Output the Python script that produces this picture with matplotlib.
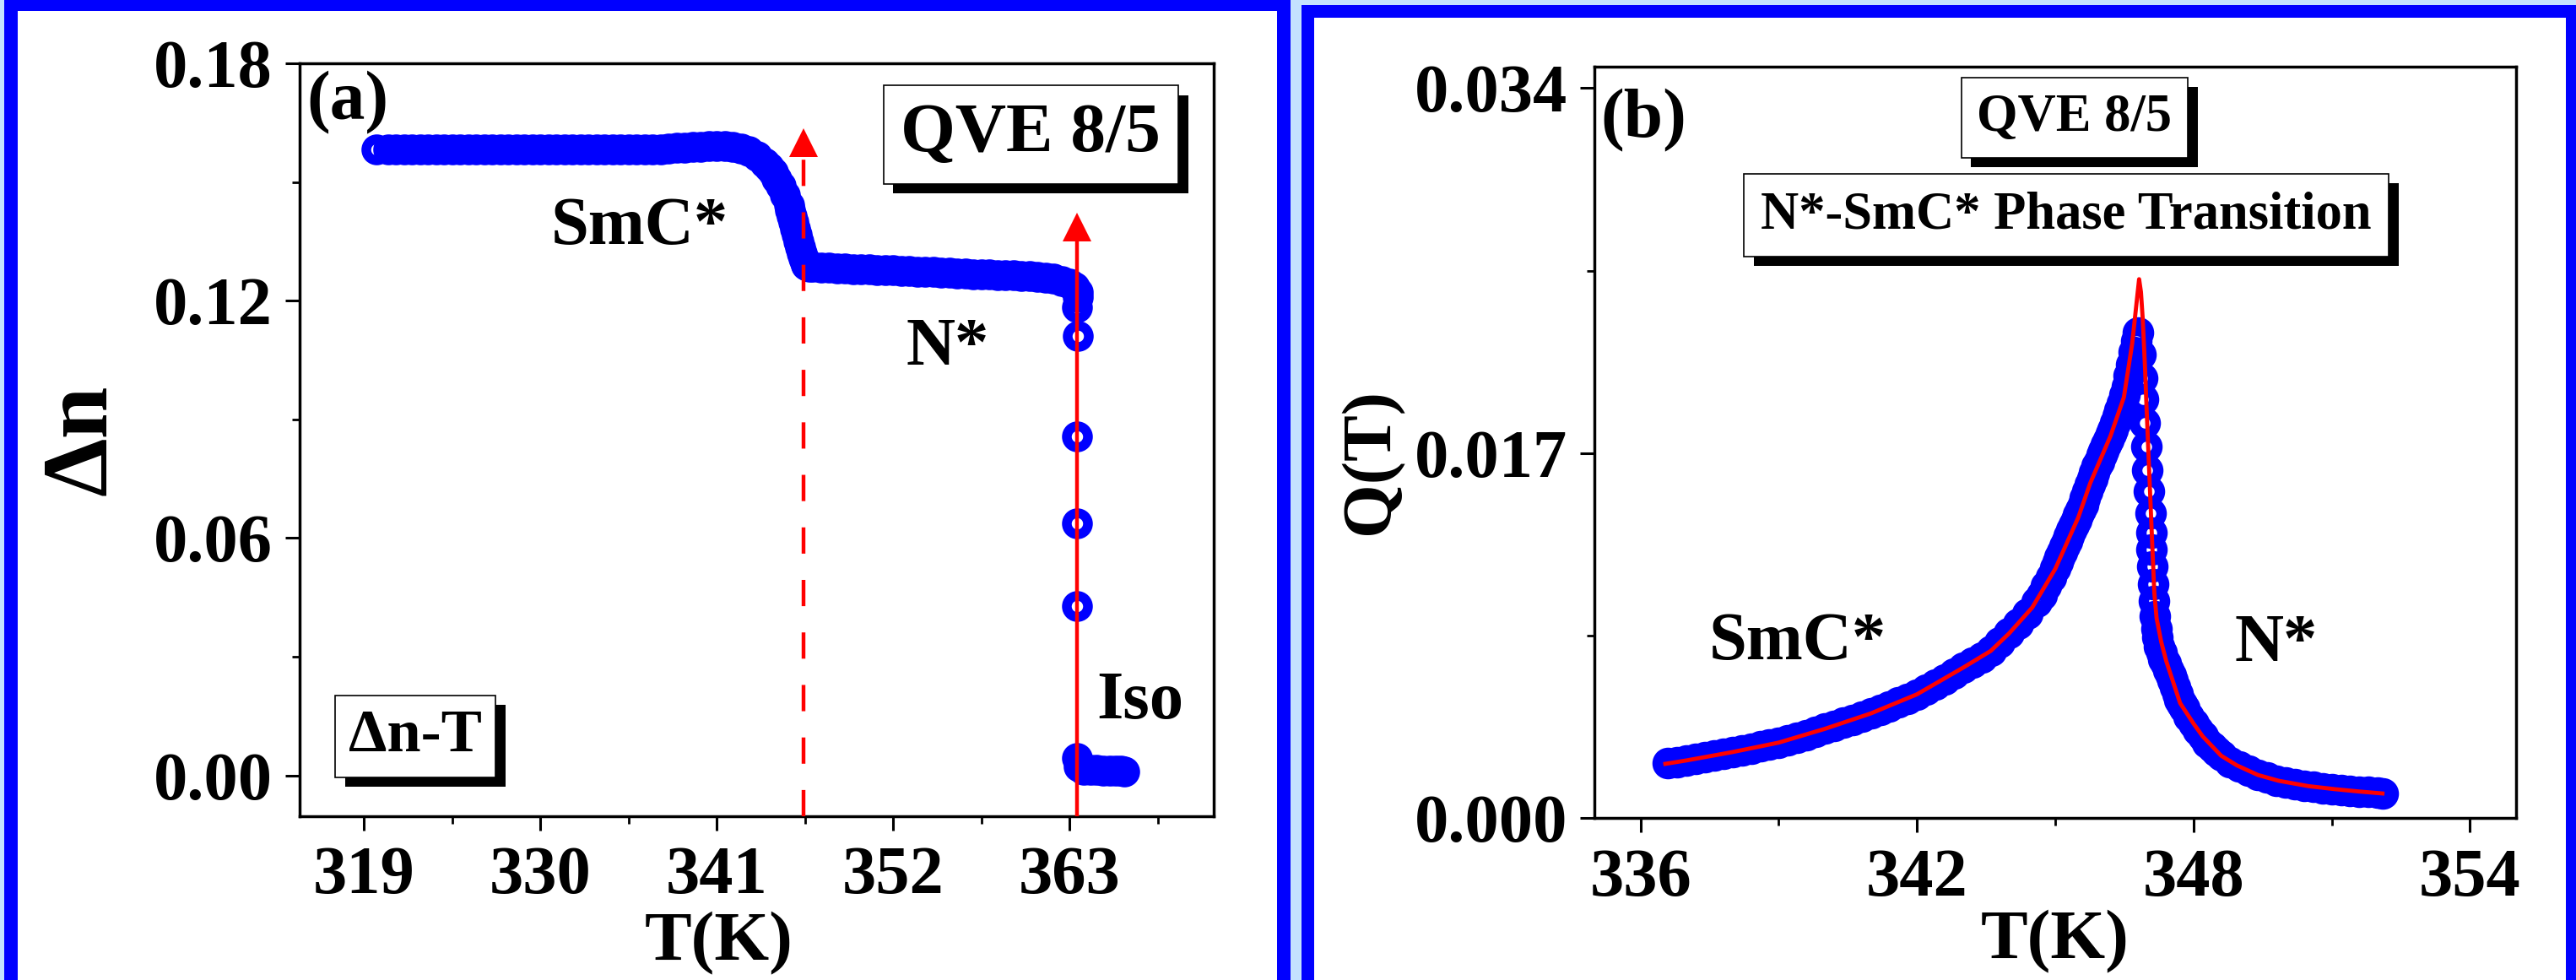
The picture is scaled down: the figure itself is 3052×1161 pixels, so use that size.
import matplotlib
matplotlib.use('Agg')
import matplotlib.pyplot as plt
from matplotlib.patches import Rectangle
from matplotlib import patheffects
from matplotlib.ticker import FixedLocator, FormatStrFormatter

# (a) birefringence vs temperature
dn_T = [319.8, 320.5, 321.0, 321.5, 322.0, 322.5, 323.0, 323.5, 324.0, 324.5,
        325.0, 325.5, 326.0, 326.5, 327.0, 327.5, 328.0, 328.5, 329.0, 329.5,
        330.0, 330.5, 331.0, 331.5, 332.0, 332.5, 333.0, 333.5, 334.0, 334.5,
        335.0, 335.5, 336.0, 336.5, 337.0, 337.5, 338.0, 338.5, 339.0, 339.5,
        340.0, 340.5, 341.0, 341.5, 342.0, 342.5, 343.0, 343.5, 344.0, 344.25,
        344.5, 344.75, 345.0, 345.25, 345.5, 345.6, 345.7, 345.8, 345.9, 346.0,
        346.1, 346.2, 346.3, 346.4, 346.5, 346.6, 346.7, 346.8, 347.0, 347.5,
        348.0, 348.5, 349.0, 349.5, 350.0, 350.5, 351.0, 351.5, 352.0, 352.5,
        353.0, 353.5, 354.0, 354.5, 355.0, 355.5, 356.0, 356.5, 357.0, 357.5,
        358.0, 358.5, 359.0, 359.5, 360.0, 360.5, 361.0, 361.5, 362.0, 362.5,
        363.0, 363.3, 363.5, 363.5, 363.45, 363.5, 363.47, 363.47, 363.47, 363.47,
        363.6, 363.9, 364.3, 364.7, 365.1, 365.5, 365.9, 366.2, 366.4]
dn_val = [0.1583, 0.1583, 0.1583, 0.1583, 0.1583, 0.1583, 0.1583, 0.1583, 0.1583, 0.1583,
          0.1583, 0.1583, 0.1583, 0.1583, 0.1583, 0.1583, 0.1583, 0.1583, 0.1583, 0.1583,
          0.1583, 0.1583, 0.1583, 0.1583, 0.1583, 0.1583, 0.1583, 0.1583, 0.1583, 0.1583,
          0.1583, 0.1583, 0.1583, 0.1583, 0.1583, 0.1583, 0.1584, 0.1586, 0.1587, 0.1588,
          0.1589, 0.1590, 0.1591, 0.1591, 0.1589, 0.1585, 0.1578, 0.1565, 0.1548, 0.1537,
          0.1524, 0.1508, 0.1490, 0.1468, 0.1442, 0.1428, 0.1413, 0.1398, 0.1382, 0.1366,
          0.1350, 0.1335, 0.1320, 0.1307, 0.1297, 0.1291, 0.1288, 0.1286, 0.1285, 0.1284,
          0.1283, 0.1282, 0.1281, 0.1280, 0.1280, 0.1279, 0.1278, 0.1278, 0.1277, 0.1276,
          0.1275, 0.1274, 0.1273, 0.1272, 0.1271, 0.1270, 0.1269, 0.1268, 0.1267, 0.1267,
          0.1266, 0.1265, 0.1265, 0.1264, 0.1263, 0.1262, 0.1260, 0.1258, 0.1255, 0.1250,
          0.1243, 0.1234, 0.1222, 0.1210, 0.1183, 0.1111, 0.0858, 0.0638, 0.0429, 0.0044,
          0.0022, 0.0015, 0.0014, 0.0014, 0.0013, 0.0013, 0.0012, 0.0012, 0.0011]

# transitions marked by arrows: temperature, tip height, line style
trans_T = [346.44, 363.47]
trans_tip = [0.1636, 0.1423]
trans_style = [(0, (7, 7)), '-']

# (b) order parameter Q(T), data and fit
q_T = [336.6, 336.8, 337.0, 337.2, 337.4, 337.6, 337.8, 338.0, 338.2, 338.4,
       338.6, 338.8, 339.0, 339.2, 339.4, 339.6, 339.8, 340.0, 340.2, 340.4,
       340.6, 340.8, 341.0, 341.2, 341.4, 341.6, 341.8, 342.0, 342.2, 342.4,
       342.6, 342.8, 343.0, 343.2, 343.4, 343.6, 343.8, 344.0, 344.2, 344.4,
       344.6, 344.7, 344.8, 344.9, 345.0, 345.05, 345.1, 345.15, 345.2, 345.25,
       345.3, 345.35, 345.4, 345.45, 345.5, 345.55, 345.6,
       345.65, 345.7, 345.75, 345.8, 345.85, 345.9, 345.95, 346.0, 346.05, 346.1,
       346.15, 346.2, 346.25, 346.3, 346.35, 346.4, 346.45, 346.5, 346.55, 346.6,
       346.65, 346.7, 346.75, 346.8,
       346.85, 346.88, 346.91, 346.94, 346.97, 347.0, 347.04, 347.07, 347.08, 347.09,
       347.1, 347.12, 347.14, 347.16, 347.19, 347.22, 347.26, 347.3, 347.35, 347.4,
       347.45, 347.5, 347.55, 347.6, 347.65, 347.7, 347.75, 347.8, 347.9, 348.0,
       348.1, 348.2, 348.3, 348.4, 348.5, 348.6, 348.8, 349.0, 349.2, 349.4,
       349.6, 349.8, 350.0, 350.2, 350.4, 350.6, 350.8, 351.0, 351.2, 351.4,
       351.6, 351.8, 352.0, 352.1]
q_val = [0.00254, 0.00261, 0.00268, 0.00276, 0.00284, 0.00292, 0.00299, 0.00307, 0.00315, 0.00324,
         0.00333, 0.00342, 0.00351, 0.00362, 0.00374, 0.00387, 0.00401, 0.00415, 0.00429, 0.00443,
         0.00457, 0.00472, 0.00487, 0.00503, 0.00519, 0.00537, 0.00556, 0.00576, 0.00597, 0.00620,
         0.00646, 0.00673, 0.00700, 0.00723, 0.00748, 0.00778, 0.00817, 0.00860, 0.00905, 0.00950,
         0.01005, 0.01040, 0.01080, 0.01120, 0.01165, 0.01190, 0.01215, 0.01240, 0.01265, 0.01290,
         0.01315, 0.01340, 0.01365, 0.01390, 0.01410, 0.01435, 0.01460,
         0.01490, 0.01520, 0.01555, 0.01580, 0.01610, 0.01640, 0.01660, 0.01690, 0.01710, 0.01740,
         0.01760, 0.01790, 0.01810, 0.01840, 0.01870, 0.01900, 0.01930, 0.01970, 0.02010, 0.02060,
         0.02110, 0.02170, 0.02220, 0.02260,
         0.02160, 0.02050, 0.01950, 0.01840, 0.01730, 0.01620, 0.01520, 0.01420, 0.01330, 0.01250,
         0.01170, 0.01090, 0.01010, 0.00940, 0.00880, 0.00840, 0.00800, 0.00770, 0.00740, 0.00720,
         0.00690, 0.00665, 0.00640, 0.00610, 0.00580, 0.00550, 0.00530, 0.00510, 0.00470, 0.00440,
         0.00410, 0.00380, 0.00350, 0.00330, 0.00310, 0.00290, 0.00260, 0.00240, 0.00220, 0.00200,
         0.00190, 0.00175, 0.00165, 0.00157, 0.00150, 0.00144, 0.00139, 0.00135, 0.00131, 0.00127,
         0.00123, 0.00120, 0.00117, 0.00114]
fit_T = [336.54, 337.0, 338.0, 339.0, 340.0, 341.0, 342.0, 343.0, 343.6, 344.0,
         344.5, 345.0, 345.5, 345.76, 346.0, 346.2, 346.49, 346.67, 346.78, 346.82,
         346.86, 346.9, 346.95, 346.98, 347.05, 347.1, 347.15, 347.2, 347.3, 347.41,
         347.71, 348.0, 348.2, 348.6, 348.94, 349.4, 349.85, 350.5, 351.07, 351.6, 352.1]
fit_val = [0.00252, 0.00268, 0.00307, 0.00351, 0.00415, 0.00487, 0.00576, 0.00700, 0.00778, 0.00860,
           0.00980, 0.01160, 0.01400, 0.01560, 0.01680, 0.01780, 0.01960, 0.02210, 0.02430, 0.02510,
           0.02450, 0.02320, 0.02090, 0.01920, 0.01560, 0.01300, 0.01050, 0.00930, 0.00820, 0.00730,
           0.00535, 0.00440, 0.00380, 0.00290, 0.00245, 0.00200, 0.00173, 0.00148, 0.00134, 0.00123, 0.00114]

W, H = 3052, 1161
BLUE = '#0000ff'
LIGHT = '#c4e2ff'

plt.rcParams['font.family'] = ['Liberation Serif', 'DejaVu Serif']
plt.rcParams['font.weight'] = 'bold'
plt.rcParams['axes.labelweight'] = 'bold'
plt.rcParams['axes.linewidth'] = 2.5

fig = plt.figure(figsize=(W / 100, H / 100), dpi=100)
fig.patch.set_facecolor(LIGHT)


def frame(x0, y0, x1, y1, color):
    # pixel box measured from the top left corner
    fig.add_artist(Rectangle((x0 / W, 1 - y1 / H), (x1 - x0) / W, (y1 - y0) / H,
                             transform=fig.transFigure, fc=color, ec='none', zorder=-10))


frame(5, 0, 1529, H + 5, BLUE)
frame(21, 13, 1513, H + 5, 'white')
frame(1542, 6, W, H + 5, BLUE)
frame(1557, 21, 3040, H + 5, 'white')


def boxed(ax, x, y, s, size, pad):
    t = ax.text(x, y, s, transform=ax.transAxes, ha='center', va='center', fontsize=size,
                bbox=dict(boxstyle='square,pad=%s' % pad, fc='white', ec='black', lw=1.2))
    t.get_bbox_patch().set_path_effects([
        patheffects.SimplePatchShadow(offset=(8.5, -8), shadow_rgbFace='black', alpha=1),
        patheffects.Normal()])
    return t


def style(ax):
    ax.tick_params(which='major', direction='out', length=12, width=2.2, labelsize=58)
    ax.tick_params(which='minor', direction='out', length=6.5, width=2)
    ax.tick_params(top=False, right=False, which='both')
    ax.set_facecolor('white')


# ---- panel (a)
ax1 = fig.add_axes([355 / W, 1 - 967 / H, 1083 / W, 892 / H])
ax1.plot(dn_T, dn_val, 'o', ms=18, mfc='none', mec=BLUE, mew=8.3, zorder=2)
ax1.set_xlim(315, 372)
ax1.set_ylim(-0.0103, 0.18)
head = 0.0073
for T, tip, ls in zip(trans_T, trans_tip, trans_style):
    ax1.vlines(T, -0.0103, tip - head, colors='red', linestyles=ls,
               lw=3.2, zorder=3)
    ax1.plot([T], [tip - head / 2], marker='^', ms=24.5, color='red', mew=0, zorder=3)

ax1.xaxis.set_major_locator(FixedLocator([319, 330, 341, 352, 363]))
ax1.xaxis.set_minor_locator(FixedLocator([324.5, 335.5, 346.5, 357.5, 368.5]))
ax1.yaxis.set_major_locator(FixedLocator([0.0, 0.06, 0.12, 0.18]))
ax1.yaxis.set_minor_locator(FixedLocator([0.03, 0.09, 0.15]))
ax1.yaxis.set_major_formatter(FormatStrFormatter('%.2f'))
style(ax1)
ax1.tick_params(axis='y', pad=11)
ax1.tick_params(axis='x', pad=13)
ax1.set_xlabel('T(K)', fontsize=60, fontweight='bold')
ax1.xaxis.set_label_coords(0.459, -0.127)
ax1.set_ylabel('Δn', fontsize=80, fontweight='bold')
ax1.yaxis.set_label_coords(-0.237, 0.5)
ax1.yaxis.label.set_va('center')

ax1.text(0.053, 0.947, '(a)', transform=ax1.transAxes, ha='center', va='center', fontsize=60)
ax1.text(336.2, 0.1386, 'SmC*', ha='center', va='center', fontsize=58)
ax1.text(355.4, 0.108, 'N*', ha='center', va='center', fontsize=58)
ax1.text(367.4, 0.0186, 'Iso', ha='center', va='center', fontsize=58)
boxed(ax1, 0.80, 0.905, 'QVE 8/5', 60, 0.25)
boxed(ax1, 0.1265, 0.106, 'Δn-T', 52, 0.22)

# ---- panel (b)
ax2 = fig.add_axes([1889 / W, 1 - 969 / H, 1092 / W, 890 / H])
ax2.plot(q_T, q_val, 'o', ms=18, mfc='none', mec=BLUE, mew=9, zorder=2)
ax2.plot(fit_T, fit_val, '-', color='red', lw=3.5, zorder=3)
ax2.set_xlim(335, 355)
ax2.set_ylim(0, 0.035)
ax2.xaxis.set_major_locator(FixedLocator([336, 342, 348, 354]))
ax2.xaxis.set_minor_locator(FixedLocator([339, 345, 351]))
ax2.yaxis.set_major_locator(FixedLocator([0.0, 0.017, 0.034]))
ax2.yaxis.set_minor_locator(FixedLocator([0.0085, 0.0255]))
ax2.yaxis.set_major_formatter(FormatStrFormatter('%.3f'))
style(ax2)
ax2.tick_params(axis='y', pad=11)
ax2.tick_params(axis='x', pad=14)
ax2.set_xlabel('T(K)', fontsize=60, fontweight='bold')
ax2.xaxis.set_label_coords(0.5, -0.1225)
ax2.set_ylabel('Q(T)', fontsize=59, fontweight='bold')
ax2.yaxis.set_label_coords(-0.242, 0.475)
ax2.yaxis.label.set_va('center')

ax2.text(0.053, 0.928, '(b)', transform=ax2.transAxes, ha='center', va='center', fontsize=60)
ax2.text(339.41, 0.00815, 'SmC*', ha='center', va='center', fontsize=58)
ax2.text(349.8, 0.0081, 'N*', ha='center', va='center', fontsize=58)
boxed(ax2, 0.521, 0.932, 'QVE 8/5', 45, 0.3)
boxed(ax2, 0.512, 0.802, 'N*-SmC* Phase Transition', 45, 0.32)

fig.savefig('out.png', dpi=100)
